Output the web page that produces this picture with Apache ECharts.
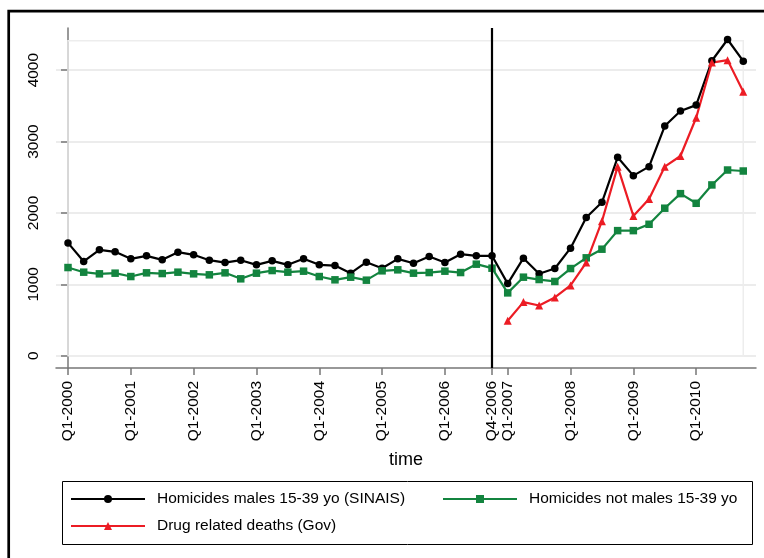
<!DOCTYPE html>
<html>
<head>
<meta charset="utf-8">
<script src="https://cdn.jsdelivr.net/npm/echarts@6/dist/echarts.min.js"></script>
<style>
html,body{margin:0;padding:0;background:#fff;}
#c{width:764px;height:558px;}
</style>
</head>
<body>
<div id="c"></div>
<script>
// Quarterly index 0 = Q1-2000 ... 43 = Q4-2010
var tickIdx = [0, 4, 8, 12, 16, 20, 24, 27, 28, 32, 36, 40];
var tickLabels = ['Q1-2000','Q1-2001','Q1-2002','Q1-2003','Q1-2004','Q1-2005','Q1-2006','Q4-2006','Q1-2007','Q1-2008','Q1-2009','Q1-2010'];
var yTicks = [0, 1000, 2000, 3000, 4000];

var malesSINAIS = [1580,1320,1483,1455,1357,1399,1343,1450,1413,1338,1305,1338,1273,1329,1273,1357,
  1273,1263,1156,1310,1226,1357,1296,1389,1305,1422,1399,1399,1010,
  1366,1147,1221,1506,1935,2149,2779,2522,2648,3217,3427,3510,4131,4429,4126];
var notMales = [1235,1170,1147,1156,1109,1161,1151,1170,1147,1133,1161,1077,1156,1193,1170,1184,
  1109,1063,1100,1058,1189,1203,1156,1165,1184,1165,1282,1226,880,
  1100,1067,1040,1221,1371,1492,1752,1752,1841,2066,2270,2135,2392,2601,2587];
var drugGov = [null,null,null,null,null,null,null,null,null,null,null,null,null,null,null,null,
  null,null,null,null,null,null,null,null,null,null,null,null,490,
  751,704,816,984,1305,1884,2648,1958,2196,2648,2797,3333,4106,4140,3697];

var names = ['Homicides males 15-39 yo (SINAIS)', 'Homicides not males 15-39 yo', 'Drug related deaths (Gov)'];
var breakLabel = 'Q4-2006';

function toPairs(arr){
  var out = [];
  arr.forEach(function(v,i){ if (v !== null) out.push([i, v]); });
  return out;
}
var labelMap = {};
tickIdx.forEach(function(t,i){ labelMap[t] = tickLabels[i]; });
var breakIdx = tickIdx[tickLabels.indexOf(breakLabel)];
var lastIdx = malesSINAIS.length - 1;
var dataTop = Math.max.apply(null, malesSINAIS);

var FONT = 'Liberation Sans, Arial, Helvetica, sans-serif';
var GREEN = '#13843f';
var RED = '#ec1c24';

var chart = echarts.init(document.getElementById('c'), null, {renderer:'canvas'});
var legendCommon = {
  itemWidth: 74, itemHeight: 10, padding: 0, itemGap: 0,
  textStyle: {fontFamily: FONT, fontSize: 15.5, color: '#000', padding: [0,0,0,7]}
};
chart.setOption({
  animation: false,
  backgroundColor: '#fff',
  grid: {left: 56, right: 8, top: 28, bottom: 190, containLabel: false},
  xAxis: {
    type: 'value', min: -0.764, max: 43.81,
    name: 'time', nameLocation: 'middle', nameGap: 83,
    nameTextStyle: {fontFamily: FONT, fontSize: 18, color: '#000'},
    axisLine: {show: true, onZero: false, lineStyle: {color: '#777', width: 1.5}},
    axisTick: {show: true, length: 7, customValues: tickIdx, lineStyle: {color: '#777', width: 1.5}},
    axisLabel: {show: true, rotate: 90, margin: 13, customValues: tickIdx,
      fontFamily: FONT, fontSize: 15.5, color: '#000',
      formatter: function(v){ return labelMap[v] !== undefined ? labelMap[v] : ''; }},
    splitLine: {show: false}
  },
  yAxis: {
    type: 'value', min: -172, max: 4590,
    axisLine: {show: true, lineStyle: {color: '#777', width: 1.5}},
    axisTick: {show: true, length: 7, customValues: yTicks, lineStyle: {color: '#777', width: 1.5}},
    axisLabel: {show: true, rotate: 90, margin: 14, customValues: yTicks,
      fontFamily: FONT, fontSize: 15.5, color: '#000',
      formatter: function(v){ return String(Math.round(v)); }},
    splitLine: {show: true, lineStyle: {color: '#e6e6e6', width: 1.5}}
  },
  legend: [
    Object.assign({}, legendCommon, {data: [names[0]], left: 70, top: 491}),
    Object.assign({}, legendCommon, {data: [names[1]], left: 442, top: 491}),
    Object.assign({}, legendCommon, {data: [names[2]], left: 70, top: 518})
  ],
  graphic: [
    {type: 'rect', silent: true, z: -1, shape: {x: 8.7, y: 11.2, width: 900, height: 700},
      style: {fill: 'none', stroke: '#000', lineWidth: 2.7}},
    {type: 'rect', silent: true, shape: {x: 62.5, y: 481.5, width: 690, height: 63},
      style: {fill: 'none', stroke: '#000', lineWidth: 1}}
  ],
  series: [
    {
      name: names[0], type: 'line', data: toPairs(malesSINAIS),
      symbol: 'circle', symbolSize: 7.5, showAllSymbol: true,
      lineStyle: {color: '#000', width: 2.2}, itemStyle: {color: '#000'},
      markArea: {silent: true,
        itemStyle: {color: 'rgba(0,0,0,0)', borderColor: '#ededed', borderWidth: 1.5},
        data: [[{coord: [0, 0]}, {coord: [lastIdx, dataTop - 17]}]]},
      markLine: {silent: true, symbol: 'none', animation: false,
        label: {show: false},
        lineStyle: {color: '#000', width: 2.2, type: 'solid'},
        data: [{xAxis: breakIdx}]}
    },
    {
      name: names[1], type: 'line', data: toPairs(notMales),
      symbol: 'rect', symbolSize: 7.5, showAllSymbol: true,
      lineStyle: {color: GREEN, width: 2.2}, itemStyle: {color: GREEN}
    },
    {
      name: names[2], type: 'line', data: toPairs(drugGov),
      symbol: 'triangle', symbolSize: 8, showAllSymbol: true,
      lineStyle: {color: RED, width: 2.2}, itemStyle: {color: RED}
    }
  ]
});
</script>
</body>
</html>
